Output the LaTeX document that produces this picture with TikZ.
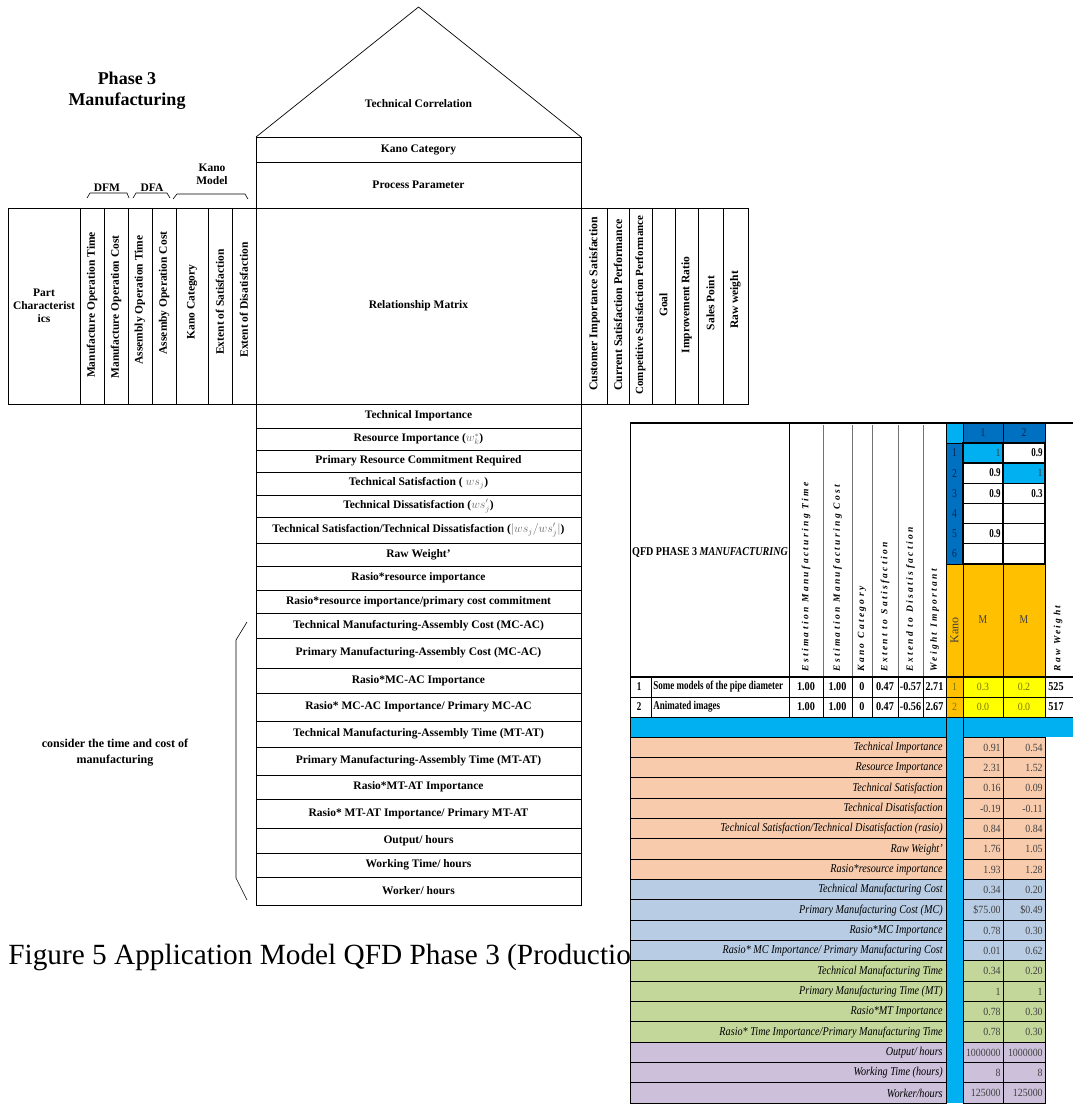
\documentclass[tikz,border=0pt]{standalone}
\usepackage{fontspec}
\setmainfont{Liberation Serif}
\newfontfamily\widefont[LetterSpace=25]{Liberation Serif}
\usepackage{tikz}
\usetikzlibrary{positioning}
\definecolor{qorange}{RGB}{248,203,173}
\definecolor{qblue}{RGB}{184,204,228}
\definecolor{qgreen}{RGB}{196,215,155}
\definecolor{qpurple}{RGB}{204,192,218}
\definecolor{qcyan}{RGB}{0,176,240}
\definecolor{qdblue}{RGB}{0,112,192}
\definecolor{qgold}{RGB}{255,192,0}
\definecolor{qyellow}{RGB}{255,255,0}
\definecolor{qolive}{RGB}{120,120,0}
\definecolor{qnavy}{RGB}{10,35,80}

\begin{document}
\begin{tikzpicture}[x=1pt,y=-1pt,line width=0.7pt,node distance=0pt]
            \tikzset{box/.style={draw, outer sep=0pt, inner sep=1pt, minimum width=325pt, font=\bfseries\fontsize{11.5}{13}\selectfont},
                     lab/.style={font=\bfseries\fontsize{11.5}{13}\selectfont, inner sep=0pt},
                     vlab/.style={lab, rotate=90},
                     brk/.style={line width=0.6pt},
                     tb/.style={font=\bfseries\fontsize{12}{14}\selectfont, xscale=0.75, inner sep=0pt},
                     tn/.style={font=\bfseries\fontsize{12}{14}\selectfont, xscale=0.85, inner sep=0pt},
                     ti/.style={font=\itshape\fontsize{12}{14}\selectfont, xscale=0.85, inner sep=0pt, anchor=east},
                     tv/.style={font=\fontsize{11}{13}\selectfont, xscale=0.9, inner sep=0pt, anchor=east, text=black!75},
                     tk/.style={font=\fontsize{12}{14}\selectfont, xscale=0.8, inner sep=0pt, text=qnavy},
                     thead/.style={font=\widefont\bfseries\itshape\fontsize{9.5}{11}\selectfont, rotate=90, anchor=west, inner sep=0pt}}
            \useasboundingbox (0,0) rectangle (1073,1104);
            % title and groups
            \node[align=center, font=\bfseries\fontsize{18}{21}\selectfont] (title) at (127,91) {Phase 3\\Manufacturing};
            \node[lab] (dfm) at (107,188) {DFM};
            \node[lab] (dfa) at (152,188) {DFA};
            \node[lab, align=center] (kmod) at (212,174) {Kano\\Model};
            \draw[brk] (87,198) -- (90,193) -- (127,193) -- (129,198);
            \draw[brk] (133,198) -- (136,193) -- (167,193) -- (170,198);
            \draw[brk] (173,199) -- (177,194) -- (245,194) -- (248,199);
            % house
            \node[box, minimum height=25pt] (kano) at (418.5,149.5) {Kano Category};
            \node[box, minimum height=46pt, below=of kano] (proc) {Process Parameter};
            \node[box, minimum height=196pt, below=of proc] (rel) {Relationship Matrix};
            \coordinate (apex) at (418.5,7);
            \draw (kano.north west) -- (apex) -- (kano.north east);
            \node[lab] (tc) at (418.5,104) {Technical Correlation};
            % left block
            \draw (8,208) rectangle (rel.south west);
            \draw (80,208) -- (80,404) (104,208) -- (104,404) (128,208) -- (128,404) (152,208) -- (152,404)
                  (176,208) -- (176,404) (208,208) -- (208,404) (232,208) -- (232,404);
            \node[lab, align=center] (part) at (44,306) {Part\\Characterist\\ics};
            \node[vlab] (mot) at (92,305) {Manufacture Operation Time};
            \node[vlab] (moc) at (116,307) {Manufacture Operation Cost};
            \node[vlab] (aot) at (140,300) {Assembly Operation Time};
            \node[vlab] (aoc) at (164,293) {Assemby Operation Cost};
            \node[vlab] (kcat) at (192,302) {Kano Category};
            \node[vlab] (eos) at (220,302) {Extent of Satisfaction};
            \node[vlab] (eod) at (244,300) {Extent of Disatisfaction};
            % right block
            \draw (rel.north east) rectangle (748,404);
            \draw (607,208) -- (607,404) (629,208) -- (629,404) (652,208) -- (652,404) (675,208) -- (675,404)
                  (698,208) -- (698,404) (723,208) -- (723,404);
            \node[vlab, font=\bfseries\fontsize{11.8}{13}\selectfont] (cis) at (594.5,304) {Customer Importance Satisfaction};
            \node[vlab, font=\bfseries\fontsize{11.8}{13}\selectfont] (csp) at (618,305) {Current Satisfaction Performance};
            \node[vlab, font=\bfseries\fontsize{11}{13}\selectfont] (comp) at (640.5,305) {Competitive Satisfaction Performance};
            \node[vlab] (goal) at (663.5,305) {Goal};
            \node[vlab] (imp) at (686.5,305) {Improvement Ratio};
            \node[vlab] (sp) at (710.5,303) {Sales Point};
            \node[vlab] (rw) at (735.5,300) {Raw weight};
            % rows below the matrix
            \node[box, minimum height=24pt, below=of rel] (r1) {Technical Importance};
            \node[box, minimum height=22pt, below=of r1] (r2) {Resource Importance ({\color{black!60}$w^{*}_{k}$})};
            \node[box, minimum height=22pt, below=of r2] (r3) {Primary Resource Commitment Required};
            \node[box, minimum height=23pt, below=of r3] (r4) {Technical Satisfaction ( {\color{black!60}$ws_{j}$})};
            \node[box, minimum height=22pt, below=of r4] (r5) {Technical Dissatisfaction ({\color{black!60}$ws'_{j}$})};
            \node[box, minimum height=26pt, below=of r5] (r6) {Technical Satisfaction/Technical Dissatisfaction ({\color{black!60}$|ws_{j}/ws'_{j}|$})};
            \node[box, minimum height=23pt, below=of r6] (r7) {Raw Weight’};
            \node[box, minimum height=24pt, below=of r7] (r8) {Rasio*resource importance};
            \node[box, minimum height=23pt, below=of r8] (r9) {Rasio*resource importance/primary cost commitment};
            \node[box, minimum height=25pt, below=of r9] (r10) {Technical Manufacturing-Assembly Cost (MC-AC)};
            \node[box, minimum height=30pt, below=of r10] (r11) {Primary Manufacturing-Assembly Cost (MC-AC)};
            \node[box, minimum height=25pt, below=of r11] (r12) {Rasio*MC-AC Importance};
            \node[box, minimum height=28pt, below=of r12] (r13) {Rasio* MC-AC Importance/ Primary MC-AC};
            \node[box, minimum height=26pt, below=of r13] (r14) {Technical Manufacturing-Assembly Time (MT-AT)};
            \node[box, minimum height=28pt, below=of r14] (r15) {Primary Manufacturing-Assembly Time (MT-AT)};
            \node[box, minimum height=24pt, below=of r15] (r16) {Rasio*MT-AT Importance};
            \node[box, minimum height=29pt, below=of r16] (r17) {Rasio* MT-AT Importance/ Primary MT-AT};
            \node[box, minimum height=25pt, below=of r17] (r18) {Output/ hours};
            \node[box, minimum height=24pt, below=of r18] (r19) {Working Time/ hours};
            \node[box, minimum height=28pt, below=of r19] (r20) {Worker/ hours};
            % brace on the left
            \draw[brk] (247,622) -- (236,640) -- (236,878) -- (247,900);
            \node[lab, align=center, font=\bfseries\fontsize{12}{16}\selectfont] (cons) at (115,753) {consider the time and cost of\\manufacturing};
            % caption
            \node[anchor=west, inner sep=0pt, font=\fontsize{29.3}{31}\selectfont] (cap) at (8,957) {Figure 5 Application Model QFD Phase 3 (Productio};
            % spreadsheet
            \fill[white] (630,420) rectangle (1073,1104);
            \fill[qcyan] (946,423) rectangle (963,443);
            \fill[qdblue] (963,423) rectangle (1045,443);
            \fill[qdblue] (946,443) rectangle (963,564);
            \fill[qcyan] (963,443) rectangle (1003,463);
            \fill[qcyan] (1003,463) rectangle (1045,483);
            \fill[qgold] (946,564) rectangle (1045,677);
            \fill[qgold] (946,677) rectangle (963,717);
            \fill[qyellow] (963,677) rectangle (1045,717);
            \fill[qcyan] (630,717) rectangle (1073,737);
            \fill[qcyan] (946,737) rectangle (963,1103);
            \foreach \lab/\va/\vb/\col [count=\i] in {
                {Technical Importance}/0.91/0.54/qorange,
                {Resource Importance}/2.31/1.52/qorange,
                {Technical Satisfaction}/0.16/0.09/qorange,
                {Technical Disatisfaction}/-0.19/-0.11/qorange,
                {Technical Satisfaction/Technical Disatisfaction (rasio)}/0.84/0.84/qorange,
                {Raw Weight’}/1.76/1.05/qorange,
                {Rasio*resource importance}/1.93/1.28/qorange,
                {Technical Manufacturing Cost}/0.34/0.20/qblue,
                {Primary Manufacturing Cost (MC)}/\$75.00/\$0.49/qblue,
                {Rasio*MC Importance}/0.78/0.30/qblue,
                {Rasio* MC Importance/ Primary Manufacturing Cost}/0.01/0.62/qblue,
                {Technical Manufacturing Time}/0.34/0.20/qgreen,
                {Primary Manufacturing Time (MT)}/1/1/qgreen,
                {Rasio*MT Importance}/0.78/0.30/qgreen,
                {Rasio* Time Importance/Primary Manufacturing Time}/0.78/0.30/qgreen,
                {Output/ hours}/1000000/1000000/qpurple,
                {Working Time (hours)}/8/8/qpurple,
                {Worker/hours}/125000/125000/qpurple}{
                \pgfmathsetmacro\yt{737+(\i-1)*20.33}
                \fill[\col] (630,\yt) rectangle (946,\yt+20.33);
                \fill[\col] (963,\yt) rectangle (1045,\yt+20.33);
                \draw (630,\yt) rectangle (946,\yt+20.33);
                \draw (963,\yt) rectangle (1003,\yt+20.33) (1003,\yt) rectangle (1045,\yt+20.33);
                \node[ti] (lab\i) at (943,\yt+10.5) {\lab};
                \node[tv] (va\i) at (1001,\yt+10.5) {\va};
                \node[tv] (vb\i) at (1043,\yt+10.5) {\vb};
            }
            % grid of the spreadsheet
            \draw[line width=1.4pt] (630,423) -- (1073,423);
            \draw (630,423) -- (630,1103) (946,423) -- (946,1103) (963,423) -- (963,1103);
            \draw (789,423) -- (789,717) (1045,423) -- (1045,717) (1003,423) -- (1003,443) (1003,564) -- (1003,717);
            \draw[black!55] (823,425) -- (823,677) (852,425) -- (852,677) (872,425) -- (872,677)
                            (898,425) -- (898,677) (923,425) -- (923,677);
            \draw (651,677) -- (651,717) (823,677) -- (823,717) (852,677) -- (852,717) (872,677) -- (872,717)
                  (898,677) -- (898,717) (923,677) -- (923,717);
            \draw (946,443) -- (963,443) (946,564) -- (1045,564);
            \foreach \r in {0,...,5}{
                \draw[line width=1.2pt] (963,443+\r*20.17) rectangle (1003,463+\r*20.17)
                                        (1003,443+\r*20.17) rectangle (1045,463+\r*20.17);
                \pgfmathtruncatemacro\n{\r+1}
                \node[tk] (rn\n) at (954.5,453+\r*20.17) {\n};
            }
            \draw[line width=1.2pt] (630,677) -- (1073,677);
            \draw[line width=1pt] (630,697) -- (1073,697) (630,717) -- (1073,717) (630,737) -- (946,737) (963,737) -- (1045,737);
            \draw (630,1103) -- (946,1103) (963,1103) -- (1045,1103);
            % spreadsheet header
            \node[tb, xscale=1.12] (qfd) at (710,552) {QFD PHASE 3 \textit{MANUFACTURING}};
            \node[thead] (emt) at (806,672) {Estimation Manufacturing Time};
            \node[thead] (emc) at (837.5,672) {Estimation Manufacturing Cost};
            \node[thead] (kc) at (862,672) {Kano Category};
            \node[thead] (ets) at (885,672) {Extent to Satisfaction};
            \node[thead] (etd) at (910.5,672) {Extend to Disatisfaction};
            \node[thead] (wi) at (934.5,672) {Weight Important};
            \node[thead] (rwh) at (1058,672) {Raw Weight};
            \node[font=\fontsize{12}{14}\selectfont, rotate=90, inner sep=0pt, text=black!75] (kn) at (954.5,630) {Kano};
            \node[tk] (c1) at (983,433) {1};
            \node[tk] (c2) at (1024,433) {2};
            \node[tk, text=black!75] (m1) at (983,620) {M};
            \node[tk, text=black!75] (m2) at (1024,620) {M};
            % relationship values
            \node[tv] (v11) at (1001,453) {1};
            \node[tb, anchor=east] (v12) at (1043,453) {0.9};
            \node[tb, anchor=east] (v21) at (1001,473) {0.9};
            \node[tv] (v22) at (1043,473) {1};
            \node[tb, anchor=east] (v31) at (1001,494) {0.9};
            \node[tb, anchor=east] (v32) at (1043,494) {0.3};
            \node[tb, anchor=east] (v51) at (1001,534) {0.9};
            % part rows
            \node[tb] (i1) at (639,687) {1};
            \node[tb, anchor=west] (p1) at (653,687) {Some models of the pipe diameter};
            \node[tn] (a1) at (806,687) {1.00};
            \node[tn] (b1) at (837.5,687) {1.00};
            \node[tn] (k1) at (862,687) {0};
            \node[tn] (s1) at (885,687) {0.47};
            \node[tn] (d1) at (910.5,687) {-0.57};
            \node[tn] (w1) at (934.5,687) {2.71};
            \node[tv, anchor=center, text=qolive] (x1) at (954.5,687) {1};
            \node[tv, anchor=center, text=qolive] (y1) at (983,687) {0.3};
            \node[tv, anchor=center, text=qolive] (z1) at (1024,687) {0.2};
            \node[tn, anchor=west] (rw1) at (1048,687) {525};
            \node[tb] (i2) at (639,707) {2};
            \node[tb, anchor=west] (p2) at (653,707) {Animated images};
            \node[tn] (a2) at (806,707) {1.00};
            \node[tn] (b2) at (837.5,707) {1.00};
            \node[tn] (k2) at (862,707) {0};
            \node[tn] (s2) at (885,707) {0.47};
            \node[tn] (d2) at (910.5,707) {-0.56};
            \node[tn] (w2) at (934.5,707) {2.67};
            \node[tv, anchor=center, text=qolive] (x2) at (954.5,707) {2};
            \node[tv, anchor=center, text=qolive] (y2) at (983,707) {0.0};
            \node[tv, anchor=center, text=qolive] (z2) at (1024,707) {0.0};
            \node[tn, anchor=west] (rw2) at (1048,707) {517};
        \end{tikzpicture}
\end{document}
